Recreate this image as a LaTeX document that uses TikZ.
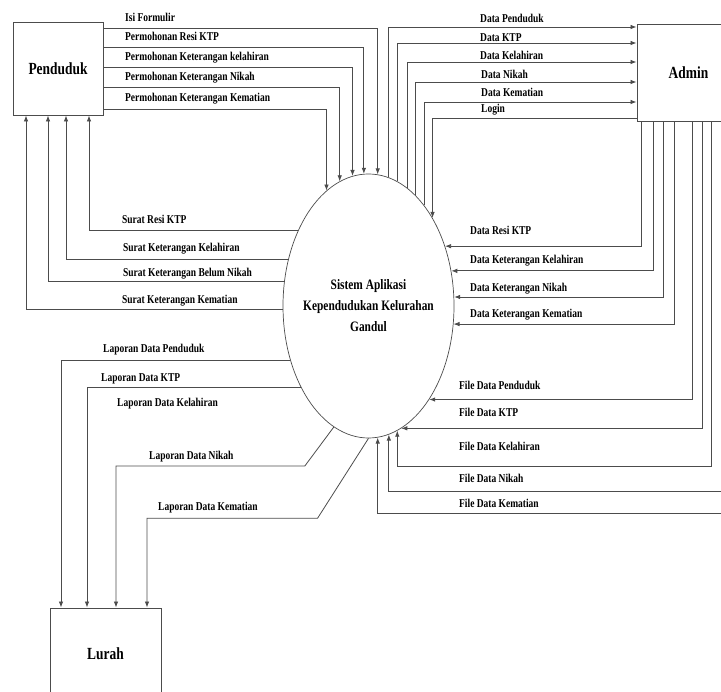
\documentclass[tikz,border=0pt]{standalone}
\usepackage{fontspec}
\setmainfont{Liberation Serif}[FakeStretch=0.79]
\usetikzlibrary{shapes.geometric,arrows.meta}

\tikzset{
	entity/.style={draw=black!70, line width=0.9pt, inner sep=0pt, font=\fontsize{17}{20}\selectfont\bfseries},
	proc/.style={ellipse, draw=black!70, line width=0.7pt, minimum width=171pt, minimum height=264pt, inner sep=0pt},
	flow/.style={draw=black!70, line width=0.8pt, -{Latex[length=6pt,width=4.5pt]}},
	lbl/.style={anchor=base west, inner sep=0pt, font=\fontsize{12}{14}\selectfont\bfseries},
}

\begin{document}
\begin{tikzpicture}[x=1pt, y=-1pt]
		\useasboundingbox (0,0) rectangle (721,692);
		\clip (0,0) rectangle (721,692);
		% entities and process
		\node[entity, minimum width=90pt, minimum height=93pt] (pend) at (58,68.5) {Penduduk};
		\node[entity, minimum width=103pt, minimum height=97pt] (admin) at (688.5,72.5) {Admin};
		\node[entity, minimum width=111pt, minimum height=92pt] (lurah) at (105.5,654) {Lurah};
		\node[proc] (sys) at (368.5,306) {};
		\node[align=center, font=\fontsize{14.4}{21}\selectfont\bfseries] (systxt) at (sys.center) {Sistem Aplikasi\\Kependudukan Kelurahan\\Gandul};

		% Penduduk -> sistem
		\draw[flow] (pend.east |- 0,28) -| (sys.86.30);
		\draw[flow] (pend.east |- 0,47) -| (sys.92.39);
		\draw[flow] (pend.east |- 0,67) -| (sys.97.71);
		\draw[flow] (pend.east |- 0,87) -| (sys.103.89);
		\draw[flow] (pend.east |- 0,109) -| (sys.110.96);
		\node[lbl] (lIsi) at (125,22) {Isi Formulir};
		\node[lbl] (lPResi) at (125,41) {Permohonan Resi KTP};
		\node[lbl] (lPLahir) at (125,61) {Permohonan Keterangan kelahiran};
		\node[lbl] (lPNikah) at (125,81) {Permohonan Keterangan Nikah};
		\node[lbl] (lPMati) at (125,102) {Permohonan Keterangan Kematian};

		% sistem -> Penduduk
		\draw[flow] (sys.133.17) -| (pend.south -| 89,0);
		\draw[flow] (sys.150.14) -| (pend.south -| 66,0);
		\draw[flow] (sys.164.72) -| (pend.south -| 48,0);
		\draw[flow] (sys.182.01) -| (pend.south -| 26,0);
		\node[lbl] (lSResi) at (122,224) {Surat Resi KTP};
		\node[lbl] (lSLahir) at (123,252) {Surat Keterangan Kelahiran};
		\node[lbl] (lSNikah) at (123,277) {Surat Keterangan Belum Nikah};
		\node[lbl] (lSMati) at (122,304) {Surat Keterangan Kematian};

		% sistem <-> Admin
		\draw[flow] (sys.81.37) |- (admin.west |- 0,27);
		\draw[flow] (sys.77.10) |- (admin.west |- 0,43);
		\draw[flow] (sys.72.45) |- (admin.west |- 0,62);
		\draw[flow] (sys.67.24) |- (admin.west |- 0,82);
		\draw[flow] (sys.61.81) |- (admin.west |- 0,102);
		\draw[flow] (admin.west |- 0,118) -| (sys.54.31);
		\node[lbl] (lDPend) at (480,23) {Data Penduduk};
		\node[lbl] (lDKtp) at (480,42) {Data KTP};
		\node[lbl] (lDLahir) at (480,60) {Data Kelahiran};
		\node[lbl] (lDNikah) at (481,79) {Data Nikah};
		\node[lbl] (lDMati) at (481,97) {Data Kematian};
		\node[lbl] (lLogin) at (481,113) {Login};

		\draw[flow] (admin.south -| 641,0) |- (sys.38.23);
		\draw[flow] (admin.south -| 653,0) |- (sys.23.00);
		\draw[flow] (admin.south -| 663,0) |- (sys.6.02);
		\draw[flow] (admin.south -| 674,0) |- (sys.348.0);
		\node[lbl] (lDResi) at (470,235) {Data Resi KTP};
		\node[lbl] (lDKLahir) at (470,264) {Data Keterangan Kelahiran};
		\node[lbl] (lDKNikah) at (470,292) {Data Keterangan Nikah};
		\node[lbl] (lDKMati) at (470,318) {Data Keterangan Kematian};

		\draw[flow] (admin.south -| 692,0) |- (sys.303.67);
		\draw[flow] (admin.south -| 702,0) |- (sys.285.77);
		\draw[flow] (admin.south -| 711,0) |- (sys.283.39 |- 0,466) -- (sys.283.39);
		\draw[flow] (admin.south -| 726,0) |- (sys.279.09 |- 0,491) -- (sys.279.09);
		\draw[flow] (admin.south -| 733,0) |- (sys.274.14 |- 0,513) -- (sys.274.14);
		\node[lbl] (lFPend) at (459,390) {File Data Penduduk};
		\node[lbl] (lFKtp) at (459,417) {File Data KTP};
		\node[lbl] (lFLahir) at (459,451) {File Data Kelahiran};
		\node[lbl] (lFNikah) at (459,483) {File Data Nikah};
		\node[lbl] (lFMati) at (459,508) {File Data Kematian};

		% sistem -> Lurah
		\draw[flow] (sys.215.88) -| (lurah.north -| 61,0);
		\draw[flow] (sys.230.75) -| (lurah.north -| 87,0);
		\draw[flow] (sys.254.22) -- ++(-29,39) -| (lurah.north -| 116,0);
		\draw[flow] (sys.south) -- ++(-51,80) -| (lurah.north -| 147,0);
		\node[lbl] (lLPend) at (103,353) {Laporan Data Penduduk};
		\node[lbl] (lLKtp) at (101,382) {Laporan Data KTP};
		\node[lbl] (lLLahir) at (117,407) {Laporan Data Kelahiran};
		\node[lbl] (lLNikah) at (149,460) {Laporan Data Nikah};
		\node[lbl] (lLMati) at (158,511) {Laporan Data Kematian};
	\end{tikzpicture}
\end{document}
